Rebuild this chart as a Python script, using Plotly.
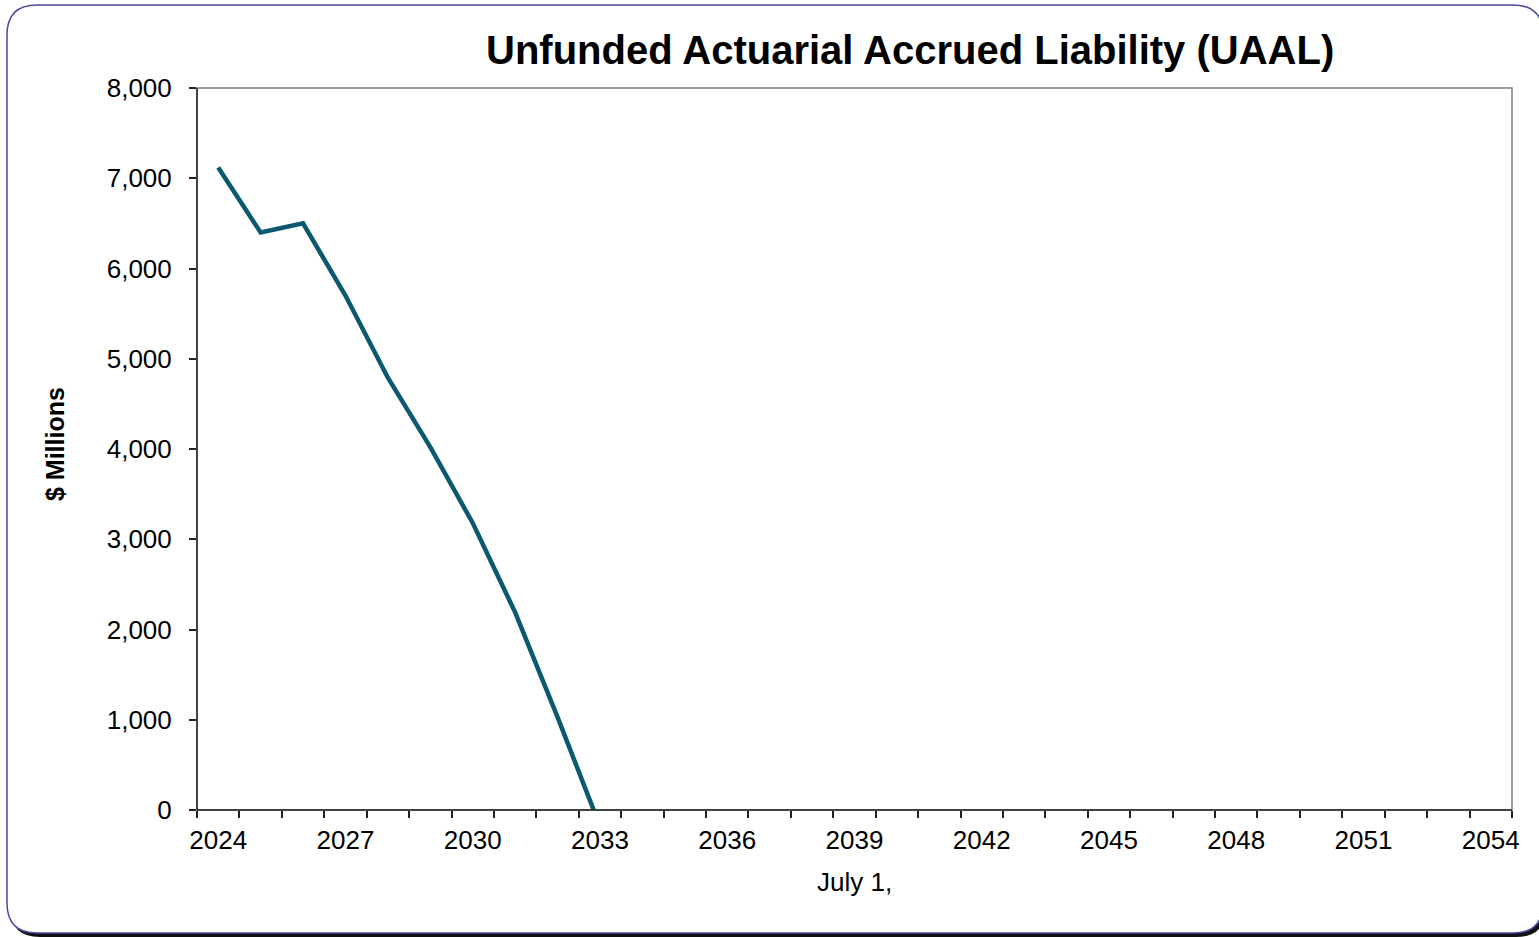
import plotly.graph_objects as go

# Valuation dates (July 1 of each year) and projected UAAL in $ millions
years = [2024, 2025, 2026, 2027, 2028, 2029, 2030, 2031, 2032, 2033,
         2034, 2035, 2036, 2037, 2038, 2039, 2040, 2041, 2042, 2043,
         2044, 2045, 2046, 2047, 2048, 2049, 2050, 2051, 2052, 2053, 2054]
uaal = [7120, 6400, 6500, 5700, 4790, 4020, 3180, 2190, 1030, -180] + [None] * 21

x_tick_years = [2024, 2027, 2030, 2033, 2036, 2039, 2042, 2045, 2048, 2051, 2054]
y_ticks = [0, 1000, 2000, 3000, 4000, 5000, 6000, 7000, 8000]

title_text = "Unfunded Actuarial Accrued Liability (UAAL)"
y_title = "$ Millions"
x_title = "July 1,"

FONT = "Liberation Sans, Arial, sans-serif"
W, H = 1539, 937
# plot area in pixels
L, R, T, B = 197, 1512, 88, 810
PW, PH = R - L, B - T


def px(x):
    return (x - L) / PW


def py(y):
    return (B - y) / PH


def rounded_rect(x0, y0, x1, y1, r):
    pts = [
        f"M{px(x0 + r)},{py(y0)}",
        f"L{px(x1 - r)},{py(y0)}",
        f"Q{px(x1)},{py(y0)} {px(x1)},{py(y0 + r)}",
        f"L{px(x1)},{py(y1 - r)}",
        f"Q{px(x1)},{py(y1)} {px(x1 - r)},{py(y1)}",
        f"L{px(x0 + r)},{py(y1)}",
        f"Q{px(x0)},{py(y1)} {px(x0)},{py(y1 - r)}",
        f"L{px(x0)},{py(y0 + r)}",
        f"Q{px(x0)},{py(y0)} {px(x0 + r)},{py(y0)}",
        "Z",
    ]
    return " ".join(pts)


fig = go.Figure()
fig.add_trace(go.Scatter(
    x=years, y=uaal, mode="lines",
    line=dict(color="#0A5970", width=4.5),
    connectgaps=False, showlegend=False, hoverinfo="x+y",
))

shapes = [
    # drop shadow of the frame
    dict(type="path", xref="paper", yref="paper", layer="below",
         path=rounded_rect(10, 8, 1546, 937, 30),
         fillcolor="#111111", line=dict(width=0)),
    # rounded frame
    dict(type="path", xref="paper", yref="paper", layer="below",
         path=rounded_rect(7, 5, 1543, 933, 30),
         fillcolor="white", line=dict(color="#4848A8", width=1.5)),
    # plot area border
    dict(type="rect", xref="paper", yref="paper", x0=0, y0=0, x1=1, y1=1,
         line=dict(color="#7F7F7F", width=1.5), layer="above"),
    # axis lines
    dict(type="line", xref="paper", yref="paper", x0=0, y0=0, x1=0, y1=1,
         line=dict(color="#222222", width=1.5)),
    dict(type="line", xref="paper", yref="paper", x0=0, y0=0, x1=1, y1=0,
         line=dict(color="#222222", width=1.5)),
]

annotations = [
    dict(text=f"<b>{title_text}</b>", xref="paper", yref="paper",
         x=px(910), y=py(50), xanchor="center", yanchor="middle",
         showarrow=False, font=dict(family=FONT, size=40, color="black")),
    dict(text=f"<b>{y_title}</b>", xref="paper", yref="paper",
         x=px(55), y=py(444), xanchor="center", yanchor="middle", textangle=-90,
         showarrow=False, font=dict(family=FONT, size=25, color="black")),
    dict(text=x_title, xref="paper", yref="paper",
         x=px(854), y=py(882), xanchor="center", yanchor="middle",
         showarrow=False, font=dict(family=FONT, size=26, color="black")),
]

fig.update_layout(
    width=W, height=H,
    margin=dict(l=L, r=W - R, t=T, b=H - B, pad=0),
    paper_bgcolor="white", plot_bgcolor="white",
    shapes=shapes, annotations=annotations,
    font=dict(family=FONT, size=26, color="black"),
    xaxis=dict(
        type="linear", range=[2023.5, 2054.5],
        tickmode="array", tickvals=x_tick_years,
        ticktext=[str(v) for v in x_tick_years],
        ticks="", showgrid=False, zeroline=False, showline=False,
        ticklabelstandoff=12,
        tickfont=dict(family=FONT, size=26, color="black"),
        minor=dict(tickmode="linear", tick0=2023.5, dtick=1,
                   ticks="outside", ticklen=7, tickwidth=1.5,
                   tickcolor="#222222", showgrid=False),
    ),
    yaxis=dict(
        range=[0, 8000], tickmode="array", tickvals=y_ticks,
        ticktext=[f"{v:,}" for v in y_ticks],
        ticks="outside", ticklen=7, tickwidth=1.5, tickcolor="#222222",
        ticklabelstandoff=12,
        showgrid=False, zeroline=False, showline=False,
        tickfont=dict(family=FONT, size=26, color="black"),
    ),
)

fig.write_html("out.html")
